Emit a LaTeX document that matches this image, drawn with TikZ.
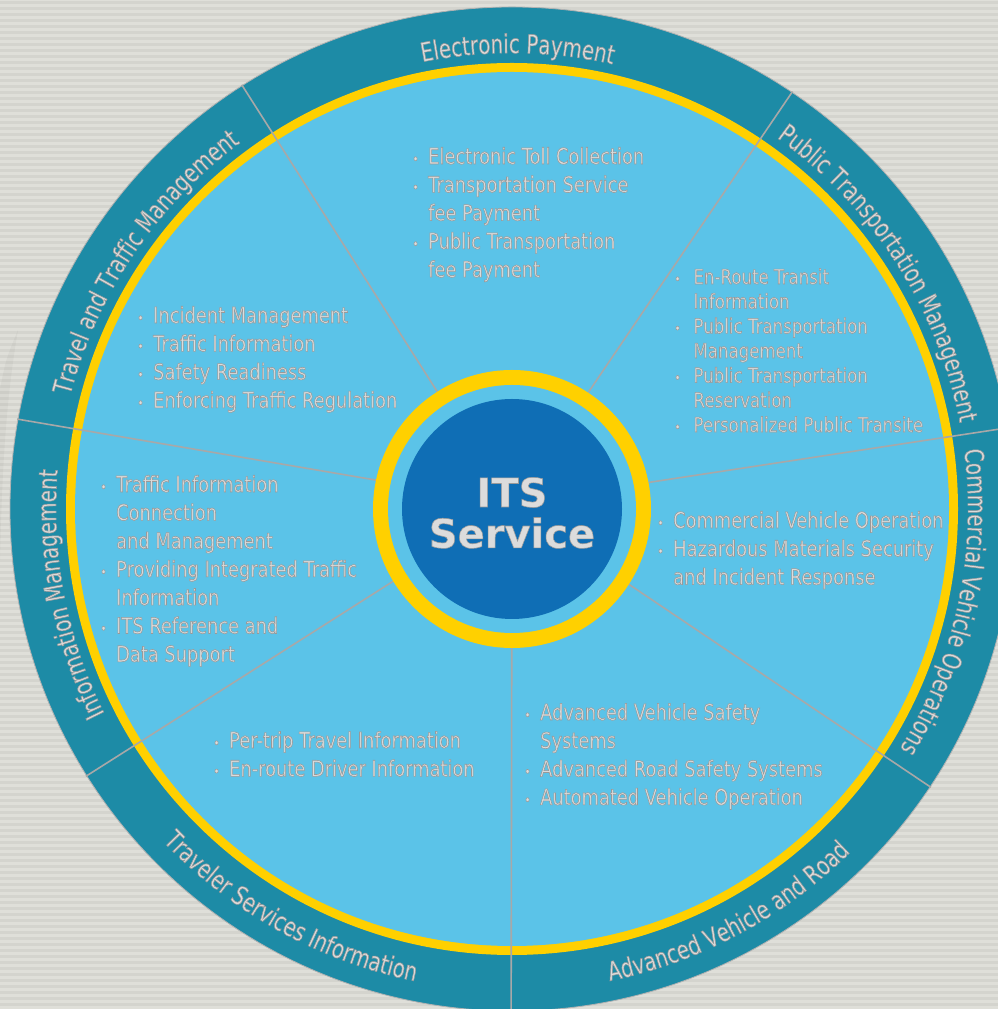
\documentclass[tikz,border=0pt]{standalone}
\usepackage{fontspec}
\setmainfont{DejaVu Sans}
\newfontfamily\bodyfont[FakeStretch=0.81]{DejaVu Sans}
\newfontfamily\bandfont[FakeStretch=0.76]{DejaVu Sans}
\usetikzlibrary{decorations.text}
\definecolor{bgc}{RGB}{212,212,206}
\definecolor{bgl}{RGB}{223,223,217}
\definecolor{bandteal}{RGB}{29,139,166}
\definecolor{sky}{RGB}{91,195,232}
\definecolor{gold}{RGB}{255,208,0}
\definecolor{deepblue}{RGB}{15,110,181}
\definecolor{txt}{RGB}{220,220,220}
\definecolor{divl}{RGB}{168,168,168}
\newcommand\outl{\special{pdf:literal direct 2 Tr 0.6 G 0.55 w}}
\newcommand\bitem[1][16pt]{\makebox[#1][l]{\fontsize{14}{14}\selectfont\textbullet}}
\newcommand\bcont[1][16pt]{\hspace*{#1}}
\begin{document}
\begin{tikzpicture}[x=1pt,y=1pt,
  blk/.style={anchor=base west, inner sep=0pt, text=txt, font=\fontsize{22}{28.3}\selectfont\bodyfont},
  blksmall/.style={blk, font=\fontsize{20.5}{24.67}\selectfont\bodyfont},
  divider/.style={draw=divl, line width=1.6pt},
  bandtext/.style={decorate, decoration={text along path, text align=center, text color=txt, text={|\fontsize{26}{30}\selectfont\bandfont\outl|#1}}}
]
\useasboundingbox (0,0) rectangle (998,1009);
\clip (0,0) rectangle (998,1009);
% background
\fill[bgc] (0,0) rectangle (998,1009);
\foreach \k in {0,...,168} \fill[bgl] (0,\k*6) rectangle (998,\k*6+3);
\fill[black, opacity=0.03] (18,679) .. controls (6,610) and (2,540) .. (0,449) -- (0,620) .. controls (6,650) .. (18,679);
% centre
\coordinate (C) at (512,500);
% outer band, yellow ring, sectors
\fill[bandteal, draw=gray!60, line width=0.8pt] (C) circle[radius=502];
\fill[gold] (C) circle[radius=446];
\fill[sky] (C) circle[radius=437];
% dividers
\coordinate (d1i) at ([shift={(C)}]122.5:139); \coordinate (d1o) at ([shift={(C)}]122.5:503);
\coordinate (d2i) at ([shift={(C)}]56.8:139);  \coordinate (d2o) at ([shift={(C)}]56.1:503);
\coordinate (d3i) at ([shift={(C)}]11:139);    \coordinate (d3o) at ([shift={(C)}]9.3:503);
\coordinate (d4i) at ([shift={(C)}]-32.8:139); \coordinate (d4o) at ([shift={(C)}]-33.6:503);
\coordinate (d5i) at ([shift={(C)}]-90.1:139); \coordinate (d5o) at ([shift={(C)}]-90.1:503);
\coordinate (d6i) at ([shift={(C)}]211.3:139); \coordinate (d6o) at ([shift={(C)}]212.1:503);
\coordinate (d7i) at ([shift={(C)}]168:139);   \coordinate (d7o) at ([shift={(C)}]169.7:503);
\foreach \d in {1,...,7} \draw[divider] (d\d i) -- (d\d o);
% central ITS circle
\fill[gold] (C) circle[radius=139];
\fill[sky] (C) circle[radius=124];
\fill[deepblue] (C) circle[radius=110];
\node[anchor=base, inner sep=0pt, text=txt, font=\fontsize{40}{35}\selectfont\bfseries] (its) at (512,502)
  {\outl\begin{tabular}[t]{@{}c@{}}ITS\\Service\end{tabular}};
% band labels
\path[bandtext={Travel and Traffic Management}] ([shift={(C)}]169.7:456) arc[start angle=169.7, end angle=122.5, radius=456];
\path[bandtext={Electronic Payment}] ([shift={(C)}]122.5:456) arc[start angle=122.5, end angle=56.1, radius=456];
\path[bandtext={Public Transportation Management}] ([shift={(C)}]56.1:456) arc[start angle=56.1, end angle=9.3, radius=456];
\path[bandtext={Commercial Vehicle Operations}] ([shift={(C)}]9.3:456) arc[start angle=9.3, end angle=-33.6, radius=456];
\path[bandtext={Advanced Vehicle and Road}] ([shift={(C)}]-90.1:482) arc[start angle=-90.1, end angle=-33.6, radius=482];
\path[bandtext={Traveler Services Information}] ([shift={(C)}]212.1:482) arc[start angle=212.1, end angle=269.9, radius=482];
\path[bandtext={Information Management}] ([shift={(C)}]212.1:456) arc[start angle=212.1, end angle=169.7, radius=456];
% sector texts
\node[blk] (ep) at (412,845) {\outl\begin{tabular}[t]{@{}l@{}}
\bitem Electronic Toll Collection\\
\bitem Transportation Service\\
\bcont fee Payment\\
\bitem Public Transportation\\
\bcont fee Payment\end{tabular}};
\node[blk] (ttm) at (137,686) {\outl\begin{tabular}[t]{@{}l@{}}
\bitem Incident Management\\
\bitem Traffic Information\\
\bitem Safety Readiness\\
\bitem Enforcing Traffic Regulation\end{tabular}};
\node[blksmall] (ptm) at (674,725) {\outl\begin{tabular}[t]{@{}l@{}}
\bitem[14pt] En-Route Transit\\
\bcont[14pt] Information\\
\bitem[14pt] Public Transportation\\
\bcont[14pt] Management\\
\bitem[14pt] Public Transportation\\
\bcont[14pt] Reservation\\
\bitem[14pt] Personalized Public Transite\end{tabular}};
\node[blk] (cvo) at (657,481) {\outl\begin{tabular}[t]{@{}l@{}}
\bitem Commercial Vehicle Operation\\
\bitem Hazardous Materials Security\\
\bcont and Incident Response\end{tabular}};
\node[blk] (im) at (100,517) {\outl\begin{tabular}[t]{@{}l@{}}
\bitem Traffic Information\\
\bcont Connection\\
\bcont and Management\\
\bitem Providing Integrated Traffic\\
\bcont Information\\
\bitem ITS Reference and\\
\bcont Data Support\end{tabular}};
\node[blk] (tsi) at (213,261) {\outl\begin{tabular}[t]{@{}l@{}}
\bitem Per-trip Travel Information\\
\bitem En-route Driver Information\end{tabular}};
\node[blk] (avr) at (524,289) {\outl\begin{tabular}[t]{@{}l@{}}
\bitem Advanced Vehicle Safety\\
\bcont Systems\\
\bitem Advanced Road Safety Systems\\
\bitem Automated Vehicle Operation\end{tabular}};
\end{tikzpicture}
\end{document}
